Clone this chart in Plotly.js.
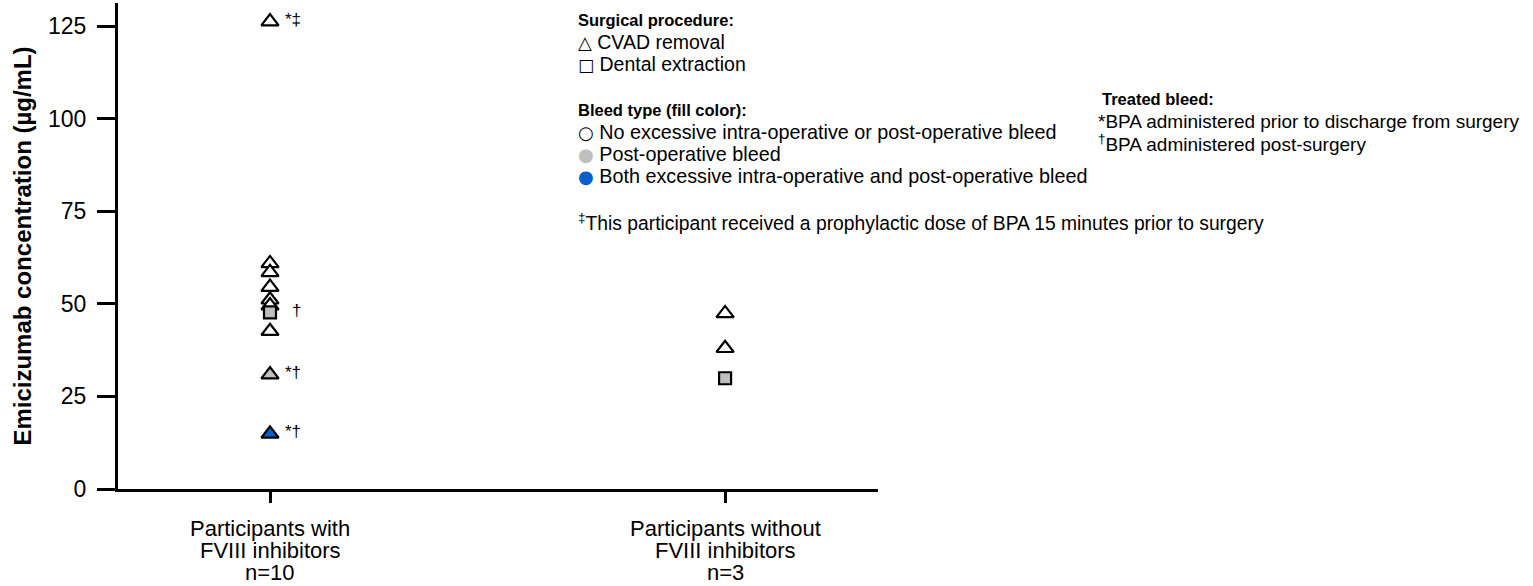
<!DOCTYPE html>
<html>
<head>
<meta charset="utf-8">
<script src="https://cdn.plot.ly/plotly-3.0.1.min.js"></script>
<style>html,body{margin:0;padding:0;background:#fff;}#chart{width:1533px;height:586px;}</style>
</head>
<body>
<div id="chart"></div>
<script>
// ---- data ----
const categories = ['Participants with FVIII inhibitors', 'Participants without FVIII inhibitors'];
const tickLine1 = ['Participants with', 'Participants without'];
const tickLine2 = ['FVIII inhibitors', 'FVIII inhibitors'];
const tickLine3 = ['n=10', 'n=3'];
const yTicks = [0, 25, 50, 75, 100, 125];

const pointGroup = [0, 0, 0, 0, 0, 0, 0, 0, 0, 0, 1, 1, 1];
const pointValue = [126.2, 60.9, 58.5, 54.5, 51.1, 49.5, 47.7, 42.6, 30.9, 14.9, 47.4, 38.0, 29.9];
const pointProcedure = ['CVAD removal', 'CVAD removal', 'CVAD removal', 'CVAD removal', 'CVAD removal',
  'CVAD removal', 'Dental extraction', 'CVAD removal', 'CVAD removal', 'CVAD removal',
  'CVAD removal', 'CVAD removal', 'Dental extraction'];
const pointBleed = ['none', 'none', 'none', 'none', 'none', 'none', 'post', 'none', 'post', 'both', 'none', 'none', 'post'];
const pointNote = ['*‡', '', '', '', '', '', '†', '', '*†', '*†', '', '', ''];

const legendProcedure = ['CVAD removal', 'Dental extraction'];
const legendBleed = ['No excessive intra-operative or post-operative bleed', 'Post-operative bleed', 'Both excessive intra-operative and post-operative bleed'];
const treatedNotes = ['*BPA administered prior to discharge from surgery', '<sup>†</sup>BPA administered post-surgery'];
const footNote = '<sup>‡</sup>This participant received a prophylactic dose of BPA 15 minutes prior to surgery';

// ---- styles ----
const symbolMap = {'CVAD removal': 'triangle-up', 'Dental extraction': 'square'};
const sizeMap = {'CVAD removal': 15, 'Dental extraction': 12};
const fillMap = {none: '#ffffff', post: '#bfbfbf', both: '#0a60c8'};
const FONT = 'Liberation Sans, Arial, sans-serif';
const GLYPH = 'DejaVu Sans';

const ML = 118, MR = 655, MT = 3, MB = 97, W = 1533, H = 586;
const PW = W - ML - MR, PH = H - MT - MB;
const px = x => (x - ML) / PW;
const py = y => (H - MB - y) / PH;

const trace = {
  type: 'scatter', mode: 'markers',
  x: pointGroup, y: pointValue,
  marker: {
    symbol: pointProcedure.map(p => symbolMap[p]),
    size: pointProcedure.map(p => sizeMap[p]),
    color: pointBleed.map(b => fillMap[b]),
    opacity: 1,
    line: {color: '#000000', width: 2.2}
  },
  hoverinfo: 'skip', showlegend: false, cliponaxis: false
};

const annotations = [];
// point notes
pointNote.forEach((t, i) => {
  if (!t) return;
  annotations.push({x: pointGroup[i], y: pointValue[i], xref: 'x', yref: 'y', text: t,
    showarrow: false, xanchor: 'right', yanchor: 'middle', xshift: 33, yshift: 2,
    font: {family: FONT, size: 17, color: '#000000'}});
});
// category labels (three lines)
[tickLine1, tickLine2, tickLine3].forEach((line, li) => {
  line.forEach((t, i) => {
    annotations.push({x: i, y: py(528 + li * 22), xref: 'x', yref: 'paper', text: t,
      showarrow: false, xanchor: 'center', yanchor: 'middle',
      font: {family: FONT, size: 22, color: '#000'}});
  });
});
// legend text
const hdr = (t, x, y) => annotations.push({x: px(x), y: py(y), xref: 'paper', yref: 'paper', text: '<b>' + t + '</b>',
  showarrow: false, xanchor: 'left', yanchor: 'middle', font: {family: FONT, size: 16.5, color: '#000'}});
const body = (t, x, y, s) => annotations.push({x: px(x), y: py(y), xref: 'paper', yref: 'paper', text: t,
  showarrow: false, xanchor: 'left', yanchor: 'middle', font: {family: FONT, size: s || 19.5, color: '#000'}});
const glyph = (g, color, size) => '<span style="font-family:' + GLYPH + ';font-size:' + size + 'px;color:' + color + '">' + g + '</span>';

hdr('Surgical procedure:', 576, 20);
const procGlyph = [glyph('△', '#000', 18), glyph('□', '#000', 17)];
legendProcedure.forEach((t, i) => body(procGlyph[i] + ' ' + t, 576, 42 + i * 22));
hdr('Bleed type (fill color):', 576, 110);
const bleedGlyph = [glyph('○', '#000', 18), glyph('●', '#bfbfbf', 18), glyph('●', '#0a60c8', 18)];
legendBleed.forEach((t, i) => body(bleedGlyph[i] + ' ' + t, 576, 132 + i * 22, 19.8));
body(footNote, 576, 222, 19.3);
hdr('Treated bleed:', 1100, 99);
treatedNotes.forEach((t, i) => body(t, 1096, 121 + i * 22, 19));

const layout = {
  width: W, height: H,
  margin: {l: ML, r: MR, t: MT, b: MB, pad: 0},
  paper_bgcolor: '#ffffff', plot_bgcolor: '#ffffff',
  font: {family: FONT, color: '#000'},
  showlegend: false,
  xaxis: {
    range: [-0.334, 1.336], tickvals: [0, 1], ticktext: categories, showticklabels: false,
    ticks: 'outside', ticklen: 11, tickwidth: 3, tickcolor: '#000',
    showline: true, linewidth: 3, linecolor: '#000', showgrid: false, zeroline: false, fixedrange: true
  },
  yaxis: {
    range: [0, PH / 3.704], tickvals: yTicks, ticktext: yTicks.map(String),
    ticks: 'outside', ticklen: 18, tickwidth: 3, tickcolor: '#000',
    showline: true, linewidth: 3, linecolor: '#000', showgrid: false, zeroline: false,
    tickfont: {family: FONT, size: 23, color: '#000'}, ticklabelstandoff: 6,
    title: {text: '<b>Emicizumab concentration (µg/mL)</b>', font: {family: FONT, size: 24, color: '#000'}, standoff: 10},
    fixedrange: true
  },
  annotations: annotations
};

Plotly.newPlot('chart', [trace], layout, {displayModeBar: false, staticPlot: true});
</script>
</body>
</html>
